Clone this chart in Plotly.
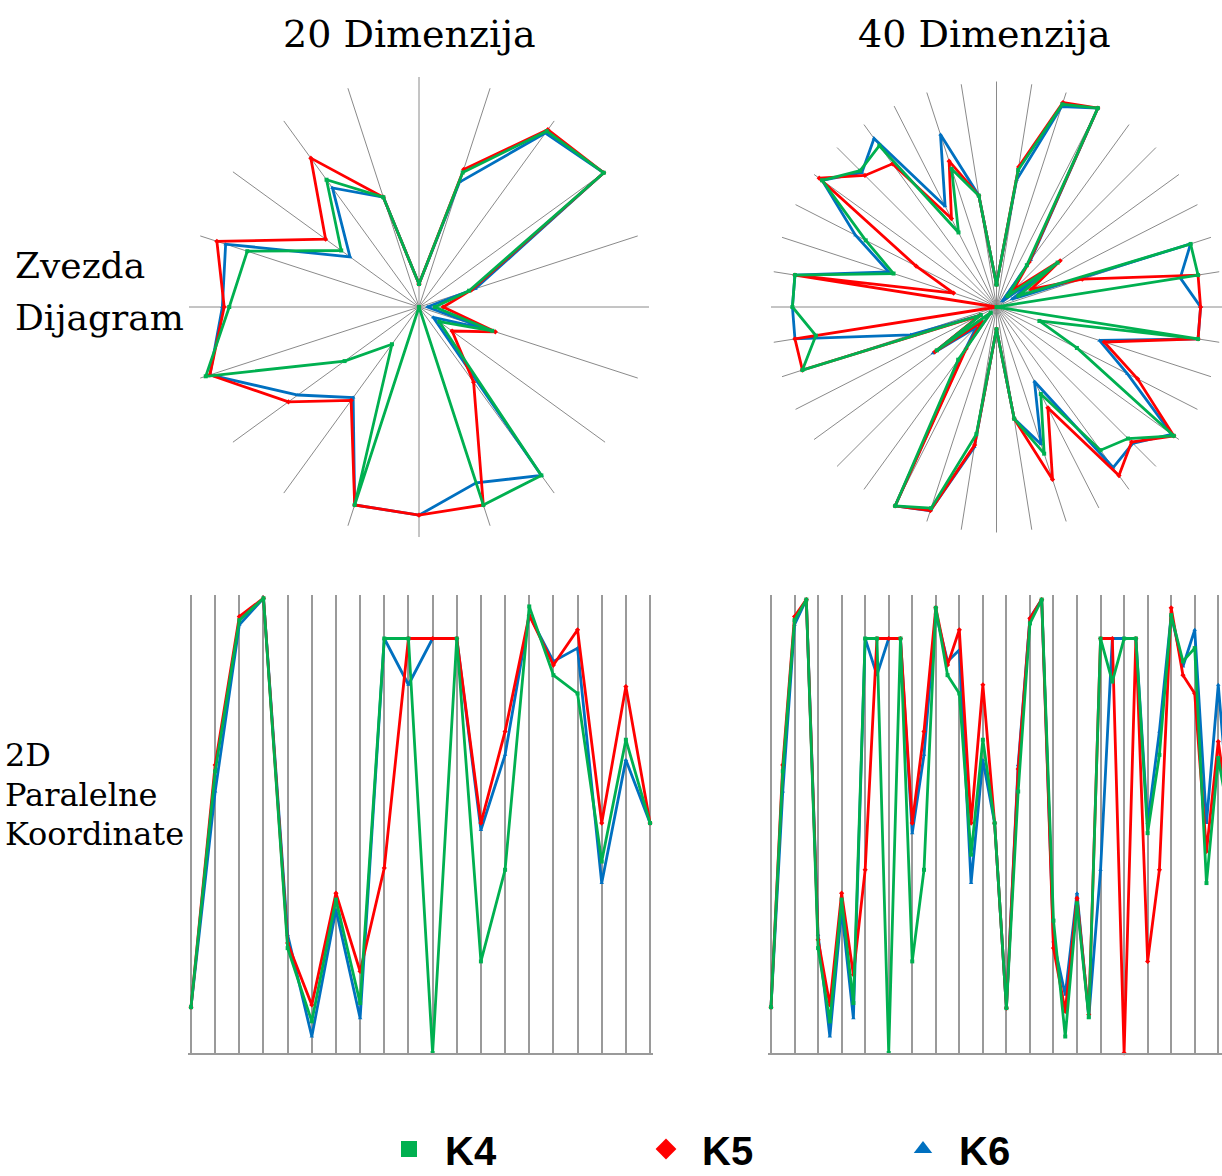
import plotly.graph_objects as go

# ---------------- data ----------------
dims20 = ["D%d" % (i + 1) for i in range(20)]
dims40 = ["D%d" % (i + 1) for i in range(40)]

k4_20 = [0.10, 0.615, 0.945, 0.993, 0.229, 0.069, 0.335, 0.109, 0.905, 0.905,
         0.0, 0.905, 0.20, 0.40, 0.975, 0.825, 0.785, 0.418, 0.684, 0.502]
k5_20 = [0.10, 0.629, 0.953, 0.993, 0.240, 0.105, 0.349, 0.178, 0.404, 0.905,
         0.905, 0.905, 0.502, 0.702, 0.956, 0.847, 0.924, 0.502, 0.800, 0.502]
k6_20 = [0.10, 0.571, 0.935, 0.993, 0.258, 0.036, 0.313, 0.076, 0.905, 0.804,
         0.905, 0.905, 0.487, 0.651, 0.956, 0.855, 0.884, 0.371, 0.640, 0.502]

k4_40 = [0.10, 0.615, 0.945, 0.990, 0.229, 0.069, 0.335, 0.109, 0.905, 0.905,
         0.0, 0.905, 0.20, 0.40, 0.972, 0.825, 0.785, 0.433, 0.684, 0.502,
         0.098, 0.571, 0.938, 0.990, 0.289, 0.036, 0.327, 0.078, 0.905, 0.811,
         0.905, 0.905, 0.480, 0.651, 0.956, 0.855, 0.884, 0.371, 0.644, 0.500]
k5_40 = [0.10, 0.629, 0.953, 0.990, 0.247, 0.105, 0.349, 0.171, 0.400, 0.905,
         0.905, 0.905, 0.502, 0.702, 0.972, 0.847, 0.924, 0.502, 0.804, 0.502,
         0.098, 0.620, 0.949, 0.990, 0.229, 0.091, 0.338, 0.084, 0.905, 0.905,
         0.0, 0.905, 0.20, 0.40, 0.972, 0.825, 0.785, 0.440, 0.680, 0.500]
k6_40 = [0.10, 0.571, 0.935, 0.990, 0.258, 0.036, 0.313, 0.076, 0.905, 0.825,
         0.905, 0.905, 0.480, 0.651, 0.960, 0.855, 0.880, 0.371, 0.640, 0.502,
         0.098, 0.629, 0.950, 0.990, 0.244, 0.127, 0.349, 0.078, 0.400, 0.905,
         0.905, 0.905, 0.502, 0.702, 0.956, 0.844, 0.924, 0.502, 0.804, 0.500]

series_names = ["K4", "K5", "K6"]
col_titles = ["20 Dimenzija", "40 Dimenzija"]
row_labels_top = ["Zvezda", "Dijagram"]
row_labels_bottom = ["2D", "Paralelne", "Koordinate"]

# ---------------- styling ----------------
W, H = 1222, 1176
GREEN, RED, BLUE = "#00B050", "#FF0000", "#0070C0"
GRID = "#8a8a8a"
PGRID = "#9a9a9a"
SERIF = "DejaVu Serif"


def px(x):
    return x / W


def py(y):
    return 1 - y / H


styles = {"K4": (GREEN, "square"), "K5": (RED, "diamond"), "K6": (BLUE, "triangle-up")}
data20 = {"K4": k4_20, "K5": k5_20, "K6": k6_20}
data40 = {"K4": k4_40, "K5": k5_40, "K6": k6_40}
draw_order = ["K6", "K5", "K4"]

fig = go.Figure()

# legend-only entries
for name in series_names:
    c, sym = styles[name]
    fig.add_trace(go.Scatter(x=[None], y=[None], mode="markers", name=name,
                             marker=dict(symbol=sym, color=c, size=16),
                             xaxis="x", yaxis="y", showlegend=True))

# star diagrams
for dims, data, sub in [(dims20, data20, "polar"), (dims40, data40, "polar2")]:
    for name in draw_order:
        c, sym = styles[name]
        vals = data[name]
        fig.add_trace(go.Scatterpolar(
            r=vals + [vals[0]], theta=dims + [dims[0]], mode="lines+markers",
            line=dict(color=c, width=2.8), marker=dict(symbol=sym, size=4, color=c),
            subplot=sub, showlegend=False, name=name))

# parallel coordinates
for dims, data, xa, ya in [(dims20, data20, "x", "y"), (dims40, data40, "x2", "y2")]:
    for name in draw_order:
        c, sym = styles[name]
        fig.add_trace(go.Scatter(
            x=dims, y=data[name], mode="lines+markers",
            line=dict(color=c, width=2.8), marker=dict(symbol=sym, size=4, color=c),
            xaxis=xa, yaxis=ya, showlegend=False, name=name, cliponaxis=False))

# ---------------- layout ----------------
def polar_layout(domx, domy, dims):
    return dict(
        domain=dict(x=domx, y=domy), bgcolor="white",
        angularaxis=dict(type="category", categoryorder="array", categoryarray=dims,
                         rotation=90, direction="clockwise", showticklabels=False,
                         ticks="", showline=False, showgrid=True,
                         gridcolor=GRID, gridwidth=1.4),
        radialaxis=dict(range=[0, 1], showgrid=False, showline=False,
                        showticklabels=False, ticks=""))


sp20 = 24.16
sp40 = 11.77
x20_0, x40_0 = 191, 771
padpx = 3.0
p20 = padpx / sp20
p40 = padpx / sp40

layout = dict(
    width=W, height=H, paper_bgcolor="white", plot_bgcolor="white",
    margin=dict(l=0, r=0, t=0, b=0, autoexpand=False),
    font=dict(family="Liberation Sans", color="black"),
    polar=polar_layout([px(189), px(649)], [py(537), py(77)], dims20),
    polar2=polar_layout([px(771), 1.0], [py(537), py(77)], dims40),
    xaxis=dict(domain=[px(x20_0 - padpx), px(x20_0 + 19 * sp20 + padpx)],
               type="category", categoryorder="array", categoryarray=dims20,
               range=[-p20, 19 + p20], showgrid=True, gridcolor=PGRID, gridwidth=1.8,
               showline=True, linecolor=PGRID, linewidth=2, showticklabels=False,
               ticks="", zeroline=False, anchor="y"),
    yaxis=dict(domain=[py(1053), py(595)], range=[0, 1], showgrid=False, zeroline=False,
               showticklabels=False, showline=False, ticks="", anchor="x"),
    xaxis2=dict(domain=[px(x40_0 - padpx), 1.0],
                type="category", categoryorder="array", categoryarray=dims40,
                range=[-p40, (W - x40_0) / sp40], showgrid=True, gridcolor=PGRID,
                gridwidth=1.8, showline=True, linecolor=PGRID, linewidth=2,
                showticklabels=False, ticks="", zeroline=False, anchor="y2"),
    yaxis2=dict(domain=[py(1053), py(595)], range=[0, 1], showgrid=False, zeroline=False,
                showticklabels=False, showline=False, ticks="", anchor="x2"),
    legend=dict(orientation="h", x=px(373), xanchor="left", y=py(1149), yanchor="middle",
                font=dict(family="Liberation Sans", size=40, color="black", weight="bold"),
                itemsizing="trace", itemwidth=62, entrywidth=180, entrywidthmode="pixels",
                traceorder="normal", bgcolor="rgba(0,0,0,0)"),
    showlegend=True,
)
fig.update_layout(**layout)

annots = []
for t, xc in zip(col_titles, [409, 984]):
    annots.append(dict(text=t, x=px(xc), y=py(34), xref="paper", yref="paper",
                       xanchor="center", yanchor="middle", showarrow=False,
                       font=dict(family=SERIF, size=38, color="black")))
for t, yc in zip(row_labels_top, [266, 317]):
    annots.append(dict(text=t, x=px(13), y=py(yc), xref="paper", yref="paper",
                       xanchor="left", yanchor="middle", showarrow=False,
                       font=dict(family=SERIF, size=36, color="black")))
for t, yc in zip(row_labels_bottom, [755, 795, 834]):
    annots.append(dict(text=t, x=px(3), y=py(yc), xref="paper", yref="paper",
                       xanchor="left", yanchor="middle", showarrow=False,
                       font=dict(family=SERIF, size=32, color="black")))
fig.update_layout(annotations=annots)

fig.write_html("out.html", config={"displayModeBar": False},
               post_script="document.body.style.margin='0';")
